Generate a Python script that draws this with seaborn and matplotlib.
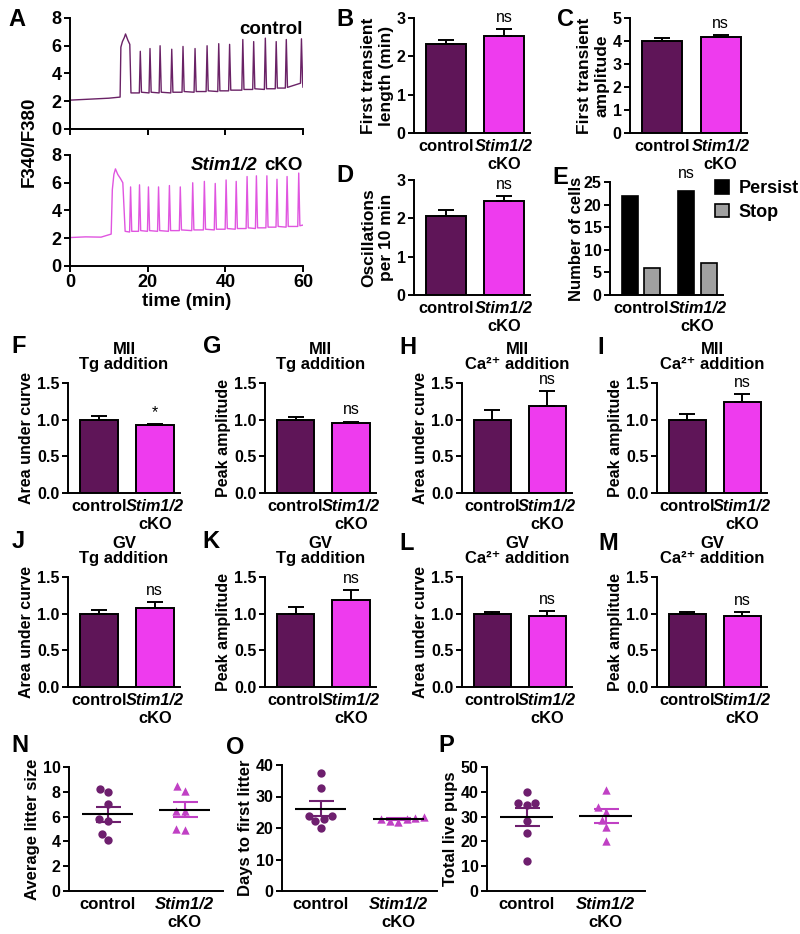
import numpy as np
import pandas as pd
import seaborn as sns
import matplotlib.pyplot as plt
from matplotlib.patches import Patch
from matplotlib.ticker import FormatStrFormatter

sns.set_style('ticks')
plt.rcParams['font.family'] = ['Liberation Sans', 'DejaVu Sans']
plt.rcParams['font.weight'] = 'bold'
plt.rcParams['axes.labelweight'] = 'bold'
plt.rcParams['axes.linewidth'] = 1.4
plt.rcParams['axes.edgecolor'] = 'black'
plt.rcParams['xtick.color'] = 'black'
plt.rcParams['ytick.color'] = 'black'
plt.rcParams['text.color'] = 'black'
plt.rcParams['axes.labelcolor'] = 'black'

groups = ['control', 'Stim1/2 cKO']

# --- panel A: Ca2+ traces ---
ctrl_pre_t = [0, 5, 10, 12.9]
ctrl_pre_v = [2.08, 2.15, 2.22, 2.3]
ctrl_first_t = [13.1, 13.5, 14.0, 14.3, 14.9, 15.4, 15.7]
ctrl_first_v = [5.9, 6.3, 6.6, 6.85, 6.4, 6.1, 2.6]
ctrl_spike_t = [18.1, 20.6, 23.2, 26.2, 29.1, 32.2, 35.3, 38.3, 41.1, 44.5, 47.3, 50.3, 53.1, 55.7, 59.6]
ctrl_spike_v = [5.6, 5.8, 6.0, 5.75, 5.95, 5.8, 6.0, 6.15, 6.1, 6.45, 6.3, 6.55, 6.3, 6.45, 6.5]
ctrl_trough_v = [2.6, 2.6, 2.6, 2.6, 2.65, 2.65, 2.7, 2.7, 2.75, 2.8, 2.85, 2.85, 2.9, 2.95, 3.3]
ctrl_end_v = 3.0

ko_pre_t = [0, 4, 8, 10.6]
ko_pre_v = [2.05, 2.1, 2.08, 2.3]
ko_first_t = [10.9, 11.3, 11.7, 12.3, 13.0, 13.6, 14.2]
ko_first_v = [5.5, 6.6, 7.0, 6.6, 6.3, 6.0, 2.5]
ko_spike_t = [15.6, 17.9, 20.2, 22.8, 25.6, 28.4, 31.6, 34.6, 37.4, 40.2, 42.8, 45.6, 48.0, 50.7, 53.3, 55.9, 58.9]
ko_spike_v = [5.7, 5.85, 5.7, 5.7, 5.8, 5.7, 6.0, 6.1, 5.95, 6.2, 6.1, 6.45, 6.5, 6.5, 6.25, 6.45, 6.7]
ko_trough_v = [2.45, 2.5, 2.5, 2.5, 2.5, 2.55, 2.55, 2.6, 2.6, 2.65, 2.65, 2.7, 2.7, 2.75, 2.8, 2.8, 2.85]
ko_end_v = 2.95

# --- bar panels B-D, F-M: mean and SEM ---
first_len = [2.33, 2.53]
first_len_sem = [0.10, 0.17]
first_amp = [4.02, 4.18]
first_amp_sem = [0.10, 0.08]
osc_rate = [2.07, 2.46]
osc_rate_sem = [0.14, 0.12]
cells_persist = [22, 23]
cells_stop = [6, 7]
mii_tg_auc = [1.0, 0.923]
mii_tg_auc_sem = [0.045, 0.02]
mii_tg_peak = [1.0, 0.955]
mii_tg_peak_sem = [0.036, 0.018]
mii_ca_auc = [1.0, 1.18]
mii_ca_auc_sem = [0.136, 0.215]
mii_ca_peak = [1.0, 1.24]
mii_ca_peak_sem = [0.077, 0.11]
gv_tg_auc = [1.0, 1.083]
gv_tg_auc_sem = [0.046, 0.077]
gv_tg_peak = [1.0, 1.185]
gv_tg_peak_sem = [0.09, 0.139]
gv_ca_auc = [1.0, 0.965]
gv_ca_auc_sem = [0.028, 0.07]
gv_ca_peak = [1.0, 0.965]
gv_ca_peak_sem = [0.023, 0.058]

# --- fertility panels N-P ---
litter_ctrl = [8.26, 7.97, 7.0, 5.84, 5.66, 4.62, 4.08]
litter_ko = [8.05, 8.44, 6.42, 6.42, 4.88, 5.01]
days_ctrl = [37.6, 32.6, 22.8, 23.7, 23.9, 22.1, 20.0]
days_ko = [22.0, 22.3, 22.7, 23.0, 23.3, 23.5]
pups_ctrl = [40.0, 35.3, 34.7, 35.3, 28.3, 23.3, 12.2]
pups_ko = [40.9, 31.9, 33.9, 28.8, 25.8, 20.1]

bar_ctrl = '#5f1558'
bar_ko = '#ee3bee'
dot_ctrl = '#6e1f6e'
dot_ko = '#c040c4'
trace_ctrl = '#6a2266'
trace_ko = '#e055e0'

W, H = 800, 934
fig = plt.figure(figsize=(W / 100, H / 100), dpi=100)


def add_ax(x0, y0, x1, y1):
    # box in pixel coords of the reference, y measured from the top
    return fig.add_axes([x0 / W, 1 - y1 / H, (x1 - x0) / W, (y1 - y0) / H])


def style(ax, size=11.5):
    sns.despine(ax=ax)
    ax.tick_params(colors='black', labelsize=size, width=1.4, length=4, pad=2)


def group_labels(ax, fs=11.8):
    ax.set_xticks([])
    ax.set_xlabel('')
    kw = dict(xycoords=('data', 'axes fraction'), textcoords='offset points',
              ha='center', va='top', fontsize=fs)
    ax.annotate('control', xy=(0, 0), xytext=(0, -4), **kw)
    ax.annotate('Stim1/2', xy=(1, 0), xytext=(0, -4), style='italic', **kw)
    ax.annotate('cKO', xy=(1, 0), xytext=(0, -17), **kw)


def trace(pre_t, pre_v, first_t, first_v, spk_t, spk_v, trough, end_v):
    t = list(pre_t) + list(first_t)
    v = list(pre_v) + list(first_v)
    for st, sv, tv in zip(spk_t, spk_v, trough):
        t += [st - 0.25, st, st + 0.3]
        v += [tv, sv, tv + 0.05]
    t.append(60)
    v.append(end_v)
    return t, v


def bar_panel(box, vals, sems, ymax, ystep, ylabel, mark, title=None, fmt=None, lab_fs=11.5):
    ax = add_ax(*box)
    sns.barplot(x=groups, y=vals, hue=groups, palette=[bar_ctrl, bar_ko], width=0.68,
                saturation=1, edgecolor='black', linewidth=1.4, errorbar=None,
                legend=False, ax=ax)
    ax.errorbar([0, 1], vals, yerr=[[0, 0], sems], fmt='none', ecolor='black',
                elinewidth=1.4, capsize=6, capthick=1.4)
    ax.set_xlim(-0.55, 1.45)
    ax.set_ylim(0, ymax)
    ax.set_yticks(np.arange(0, ymax + ystep / 2, ystep))
    if fmt:
        ax.yaxis.set_major_formatter(FormatStrFormatter(fmt))
    ax.set_ylabel(ylabel, fontsize=lab_fs, labelpad=2)
    ax.annotate(mark, xy=(1, vals[1] + sems[1]), xytext=(0, 3), textcoords='offset points',
                ha='center', va='bottom', fontweight='normal', fontsize=11.5)
    if title:
        ax.set_title(title, fontsize=12, fontweight='bold', pad=10, linespacing=1.05)
    style(ax)
    group_labels(ax)
    return ax


# ---------------- A ----------------
axA1 = add_ax(70, 18, 303, 129)
axA2 = add_ax(70, 155, 303, 266)
for ax, args, col in [
    (axA1, (ctrl_pre_t, ctrl_pre_v, ctrl_first_t, ctrl_first_v, ctrl_spike_t, ctrl_spike_v, ctrl_trough_v, ctrl_end_v), trace_ctrl),
    (axA2, (ko_pre_t, ko_pre_v, ko_first_t, ko_first_v, ko_spike_t, ko_spike_v, ko_trough_v, ko_end_v), trace_ko),
]:
    tt, vv = trace(*args)
    sns.lineplot(x=tt, y=vv, estimator=None, sort=False, color=col, lw=1.0, ax=ax)
    ax.set_xlim(0, 60)
    ax.set_ylim(0, 8)
    ax.set_xticks([0, 20, 40, 60])
    ax.set_yticks([0, 2, 4, 6, 8])
    style(ax, 13)
axA1.set_xticklabels([])
axA1.text(1.0, 0.9, 'control', transform=axA1.transAxes, ha='right', va='center', fontsize=13.5)
fig.text(257 / W, 1 - 166 / H, 'Stim1/2', style='italic', ha='right', va='center', fontsize=13.5)
fig.text(303 / W, 1 - 166 / H, 'cKO', ha='right', va='center', fontsize=13.5)
fig.text(29 / W, 1 - 142 / H, 'F340/F380', rotation=90, ha='center', va='center', fontsize=13.5)
axA2.set_xlabel('time (min)', fontsize=13.5, labelpad=1)

# ---------------- B, C, D ----------------
bar_panel((414, 18, 530, 133), first_len, first_len_sem, 3, 1, 'First transient\nlength (min)', 'ns', lab_fs=12.5)
bar_panel((630, 18, 747, 133), first_amp, first_amp_sem, 5, 1, 'First transient\namplitude', 'ns', lab_fs=12.5)
bar_panel((414, 180, 530, 295), osc_rate, osc_rate_sem, 3, 1, 'Oscillations\nper 10 min', 'ns', lab_fs=12.5)

# ---------------- E ----------------
axE = add_ax(610, 182, 723, 295)
df_e = pd.DataFrame({'group': groups * 2,
                     'status': ['Persist'] * 2 + ['Stop'] * 2,
                     'cells': cells_persist + cells_stop})
sns.barplot(data=df_e, x='group', y='cells', hue='status',
            palette={'Persist': 'black', 'Stop': '#a0a0a0'}, width=0.8, gap=0.3,
            saturation=1, edgecolor='black', linewidth=1.2, errorbar=None, ax=axE)
axE.set_xlim(-0.55, 1.45)
axE.set_ylim(0, 25)
axE.set_yticks([0, 5, 10, 15, 20, 25])
axE.set_ylabel('Number of cells', fontsize=12, labelpad=0)
axE.text(0.8, 25.3, 'ns', ha='center', va='bottom', fontweight='normal', fontsize=11.5)
axE.legend(handles=[Patch(fc='black', ec='black', lw=1.2), Patch(fc='#a0a0a0', ec='black', lw=1.2)],
           labels=['Persist', 'Stop'], loc='upper left', bbox_to_anchor=(715 / W, 1 - 180 / H),
           bbox_transform=fig.transFigure, frameon=False, fontsize=13, handlelength=0.8,
           handleheight=0.8, handletextpad=0.5, labelspacing=0.35, borderaxespad=0, borderpad=0)
style(axE)
group_labels(axE)

# ---------------- F - M ----------------
row1 = (383, 493)
row2 = (577, 687)
cols = [(68, 180), (265, 376), (462, 572), (657, 767)]
tg = 'Tg addition'
ca = 'Ca²⁺ addition'
auc = 'Area under curve'
pk = 'Peak amplitude'
bar_panel((cols[0][0], row1[0], cols[0][1], row1[1]), mii_tg_auc, mii_tg_auc_sem, 1.5, 0.5, auc, '*', 'MII\n' + tg, '%.1f')
bar_panel((cols[1][0], row1[0], cols[1][1], row1[1]), mii_tg_peak, mii_tg_peak_sem, 1.5, 0.5, pk, 'ns', 'MII\n' + tg, '%.1f')
bar_panel((cols[2][0], row1[0], cols[2][1], row1[1]), mii_ca_auc, mii_ca_auc_sem, 1.5, 0.5, auc, 'ns', 'MII\n' + ca, '%.1f')
bar_panel((cols[3][0], row1[0], cols[3][1], row1[1]), mii_ca_peak, mii_ca_peak_sem, 1.5, 0.5, pk, 'ns', 'MII\n' + ca, '%.1f')
bar_panel((cols[0][0], row2[0], cols[0][1], row2[1]), gv_tg_auc, gv_tg_auc_sem, 1.5, 0.5, auc, 'ns', 'GV\n' + tg, '%.1f')
bar_panel((cols[1][0], row2[0], cols[1][1], row2[1]), gv_tg_peak, gv_tg_peak_sem, 1.5, 0.5, pk, 'ns', 'GV\n' + tg, '%.1f')
bar_panel((cols[2][0], row2[0], cols[2][1], row2[1]), gv_ca_auc, gv_ca_auc_sem, 1.5, 0.5, auc, 'ns', 'GV\n' + ca, '%.1f')
bar_panel((cols[3][0], row2[0], cols[3][1], row2[1]), gv_ca_peak, gv_ca_peak_sem, 1.5, 0.5, pk, 'ns', 'GV\n' + ca, '%.1f')


# ---------------- N, O, P ----------------
def dot_panel(box, ctrl, ko, ymax, ystep, ylabel):
    ax = add_ax(*box)
    sns.swarmplot(x=[groups[0]] * len(ctrl), y=ctrl, order=groups, color=dot_ctrl,
                  marker='o', size=6, ax=ax)
    sns.swarmplot(x=[groups[1]] * len(ko), y=ko, order=groups, color=dot_ko,
                  marker='^', size=6, ax=ax)
    for i, (vals, col) in enumerate([(ctrl, dot_ctrl), (ko, dot_ko)]):
        m = np.mean(vals)
        s = np.std(vals, ddof=1) / np.sqrt(len(vals))
        ax.errorbar(i, m, yerr=s, fmt='none', ecolor=col, elinewidth=1.5, capsize=9, capthick=1.5)
        ax.hlines(m, i - 0.33, i + 0.33, color='black', lw=1.5, zorder=4)
    ax.set_xlim(-0.5, 1.5)
    ax.set_ylim(0, ymax)
    ax.set_yticks(np.arange(0, ymax + ystep / 2, ystep))
    ax.set_ylabel(ylabel, fontsize=12, labelpad=2)
    style(ax)
    group_labels(ax, 12)
    return ax


dot_panel((69, 767, 223, 891), litter_ctrl, litter_ko, 10, 2, 'Average litter size')
dot_panel((282, 765, 437, 891), days_ctrl, days_ko, 40, 10, 'Days to first litter')
dot_panel((487, 767, 645, 891), pups_ctrl, pups_ko, 50, 10, 'Total live pups')

# panel letters
letters = {'A': (17, 20), 'B': (345, 20), 'C': (565, 20), 'D': (345, 176), 'E': (560, 177),
           'F': (19, 347), 'G': (212, 347), 'H': (408, 348), 'I': (601, 348),
           'J': (18, 542), 'K': (211, 542), 'L': (407, 543), 'M': (608, 543),
           'N': (20, 746), 'O': (235, 747), 'P': (446, 746)}
for k, (x, y) in letters.items():
    fig.text(x / W, 1 - y / H, k, ha='center', va='center', fontsize=17, fontweight='bold')

fig.savefig('out.png', dpi=100)
